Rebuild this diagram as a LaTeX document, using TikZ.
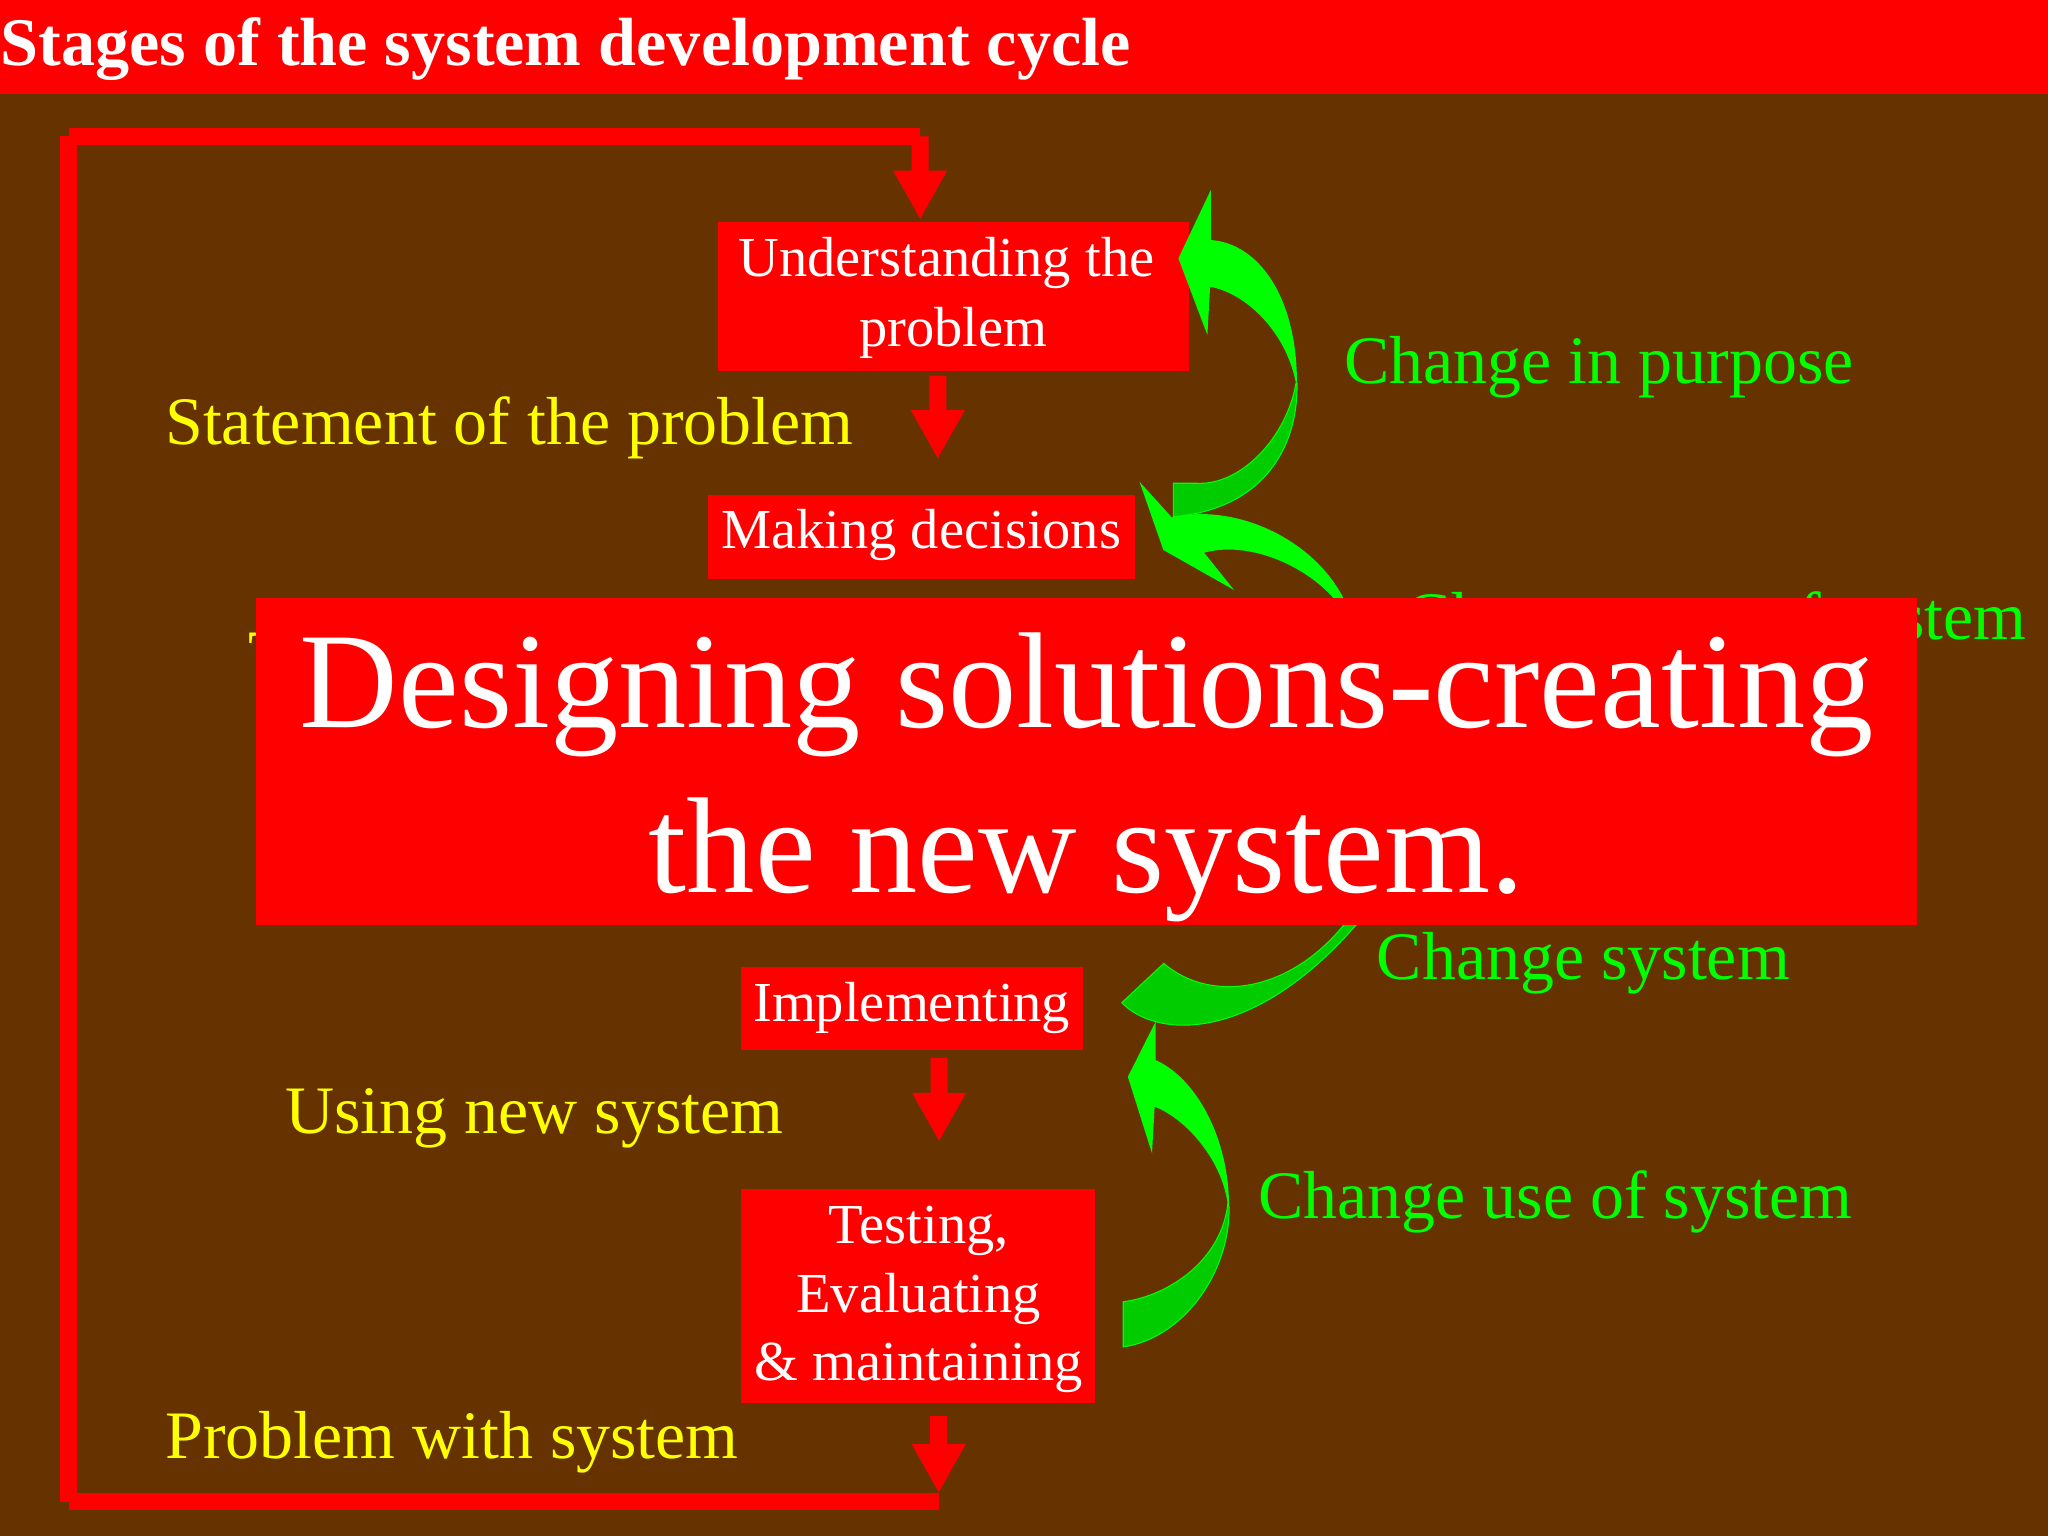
\documentclass[tikz,border=0pt]{standalone}
\usepackage{fontspec}
\setmainfont{Liberation Serif}
\usetikzlibrary{arrows.meta,calc}
\definecolor{bgbrown}{HTML}{663300}
\definecolor{pptred}{HTML}{FF0000}
\definecolor{lgreen}{HTML}{00FF00}
\definecolor{dgreen}{HTML}{00CC00}
\definecolor{lyellow}{HTML}{FFFF00}
\tikzset{
  redline/.style={draw=pptred, line width=0.169cm},
  redarrow/.style={redline, -{Triangle[width=0.5cm,length=0.4875cm]}},
  rbox/.style={fill=pptred, draw=none, inner sep=0pt, outer sep=0pt},
  btext/.style={anchor=base, inner sep=0pt, outer sep=0pt, text=white},
  ylab/.style={anchor=base west, inner sep=0pt, text=lyellow, font=\fontsize{19.23}{23}\selectfont},
  glab/.style={anchor=base west, inner sep=0pt, text=lgreen, font=\fontsize{19.23}{23}\selectfont},
  gl/.style={fill=lgreen, draw=none},
  gd/.style={fill=dgreen, draw=lgreen, line width=0.3pt},
}
\begin{document}
\begin{tikzpicture}[x=0.013cm,y=-0.013cm]
\useasboundingbox (0,0) rectangle (1568,1176);
% background and title bar
\fill[bgbrown] (0,0) rectangle (1568,1176);
\fill[pptred] (0,0) rectangle (1568,72);
\node[anchor=base west, inner sep=0pt, text=white, font=\fontsize{19.3}{23}\selectfont\bfseries] (title) at (0,49.8) {Stages of the system development cycle};

% boxes
\node[rbox, minimum width=4.68cm, minimum height=1.482cm] (U) at (730,227) {};
\node[rbox, minimum width=4.251cm, minimum height=0.832cm] (M) at (705.5,411) {};
\node[rbox, minimum width=3.406cm, minimum height=0.832cm] (I) at (698,772) {};
\node[rbox, minimum width=3.523cm, minimum height=2.132cm] (T) at (702.5,992) {};

\node[btext, font=\fontsize{16}{19.8}\selectfont] (Ut) at (730,212) {\begin{tabular}[t]{@{}c@{}}Understanding the\kern0.25em\\problem\end{tabular}};
\node[btext, font=\fontsize{16}{19.6}\selectfont] (Mt) at (705.2,420) {Making decisions};
\node[btext, font=\fontsize{16}{19.6}\selectfont] (It) at (698,782) {Implementing};
\node[btext, font=\fontsize{16}{19.45}\selectfont] (Tt) at (703.4,952) {\begin{tabular}[t]{@{}c@{}}Testing,\\Evaluating\\\& maintaining\end{tabular}};

% red loop and arrows
\coordinate (c1) at (718.7,1149.7);
\coordinate (c2) at (52.7,1149.7);
\coordinate (c3) at (52.7,104.4);
\coordinate (c4) at (704.5,104.4);
\draw[redarrow] ($(U.south)+(-12,3.7)$) -- ($(M.north)+(12.5,-27.5)$);
\draw[redarrow] ($(I.south)+(21,6)$) -- ($(T.north)+(16.5,-35.8)$);
\draw[redarrow] ($(T.south)+(16.2,10)$) -- ($(c1)+(0,-6.5)$);
\draw[redline] (c1) -- (c2);
\draw[redline] (c2) -- (c3);
\draw[redline] (c3) -- (c4);
\draw[redarrow] (c4) -- ($(U.north)+(-25.5,-1.8)$);

% yellow labels
\node[ylab] (stmt) at (126,340.4) {Statement of the problem};
\node[ylab] (hid1) at (190,518.7) {The feasibility study};
\node[ylab] (hid2) at (221,697) {The new system};
\node[ylab] (usen) at (218,867.6) {Using new system};
\node[ylab] (prob) at (126,1117) {Problem with system};

% green labels
\node[glab] (gp) at (1028.8,293.4) {Change in purpose};
\node[glab] (gt) at (1075.8,489.3) {Change type of system};
\node[glab] (gs) at (1053.6,750) {Change system};
\node[glab] (gu) at (963,932.6) {Change use of system};

% green curved arrow 1 (Making decisions -> Understanding)
\filldraw[gd] (993,293.5) .. controls (994,345) and (965,390) .. (898.4,395.6) -- (898.4,370) -- (916,370) .. controls (950,372) and (985,335) .. (992.2,293.5) -- cycle;
\fill[gl] (902.2,197.8) -- (927,145.5) -- (927,183.8) .. controls (962,186) and (993,225) .. (993,293.5) -- (992.2,293.5) .. controls (985,255) and (955,225) .. (926.5,219.5) -- (924.4,256.5) -- cycle;
% green curved arrow 2 (to Making decisions)
\fill[gl] (872.4,368.8) -- (890.7,421.1) -- (944.9,451.8) -- (921.9,423.2) .. controls (955,414) and (998,432) .. (1021,458) -- (1036,500) -- (1050,500) -- (1028.6,458) .. controls (1005,412) and (945,385) .. (897.1,396.1) -- cycle;
% green curved arrow 3 (from Implementing)
\filldraw[gd] (891,737.6) -- (858.9,767.7) .. controls (885,795) and (960,800) .. (1041,705) -- (1041,690) -- (1028,690) -- (1029,708) .. controls (985,762) and (925,767) .. (891,737.6) -- cycle;
% green curved arrow 4 (Testing -> Implementing)
\filldraw[gd] (941,924) .. controls (942,975) and (905,1025) .. (860,1031.2) -- (860,996.7) .. controls (895,992) and (935,965) .. (940,922) -- cycle;
\fill[gl] (884.7,782.3) -- (863.5,824.4) -- (882,883) -- (884,847.4) .. controls (905,855) and (935,885) .. (940,922) -- (941,924) .. controls (941,870) and (915,825) .. (884.7,811.6) -- cycle;

% big overlay box
\node[rbox, minimum width=16.536cm, minimum height=3.25cm] (D) at (832,583) {};
\node[btext, font=\fontsize{38.66}{46.6}\selectfont] (Dt) at (832,557) {\begin{tabular}[t]{@{}c@{}}Designing solutions-creating\\the new system.\end{tabular}};
\end{tikzpicture}
\end{document}
